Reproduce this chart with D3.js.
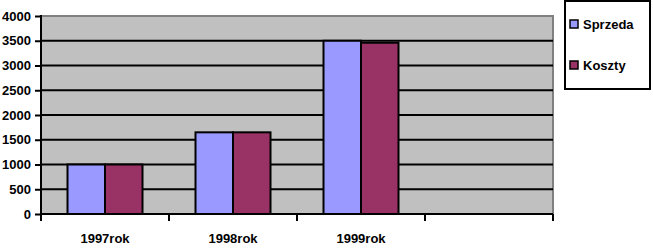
<!DOCTYPE html>
<html><head><meta charset="utf-8">
<script src="https://cdn.jsdelivr.net/npm/d3@7"></script>
<style>
html,body{margin:0;padding:0;background:#fff;}
svg{display:block;}
text{font-family:"Liberation Sans",Arial,sans-serif;font-weight:bold;font-size:13px;fill:#000;}
</style></head><body>
<svg id="c" width="653" height="248"></svg>
<script>
const categories = ["1997rok", "1998rok", "1999rok", ""];
const seriesNames = ["Sprzeda", "Koszty"];
const sprzeda = [1000, 1650, 3500, null];
const koszty = [1000, 1650, 3460, null];
const yTicks = [0, 500, 1000, 1500, 2000, 2500, 3000, 3500, 4000];
const colors = ["#9999ff", "#993366"];

const svg = d3.select("#c");
const L = 41, R = 553, T = 16, B = 214;
const x = d3.scaleBand().domain(categories.map((d,i)=>i)).range([L, R]);
const y = d3.scaleLinear().domain([0, 4000]).range([B, T]);

svg.append("rect").attr("x", L).attr("y", T).attr("width", R - L).attr("height", B - T)
  .attr("fill", "#c0c0c0").attr("stroke", "#808080").attr("stroke-width", 2);

// grid
svg.append("g").selectAll("line").data(yTicks.filter(d => d > 0 && d < 4000)).join("line")
  .attr("x1", L).attr("x2", R).attr("y1", d => y(d)).attr("y2", d => y(d))
  .attr("stroke", "#000").attr("stroke-width", 2);

// bars
const data = categories.map((c, i) => ({i, vals: [sprzeda[i], koszty[i]]}));
const groupW = 75;
const inner = d3.scaleBand().domain([0, 1]).range([0, groupW]);
const g = svg.append("g");
data.forEach(d => {
  d.vals.forEach((v, s) => {
    if (v == null) return;
    const cx = x(d.i) + x.bandwidth() / 2 - groupW / 2;
    g.append("rect")
      .attr("x", cx + inner(s)).attr("y", y(v))
      .attr("width", inner.bandwidth()).attr("height", y(0) - y(v))
      .attr("fill", colors[s]).attr("stroke", "#000").attr("stroke-width", 2);
  });
});

// y axis
const ya = d3.axisLeft(y).tickValues(yTicks).tickSize(6).tickPadding(4).tickFormat(d3.format("d"));
const yg = svg.append("g").attr("transform", `translate(${L},0)`).call(ya);
yg.select(".domain").remove();
yg.selectAll("line").attr("stroke", "#000").attr("stroke-width", 2);
yg.selectAll("text").attr("font-size", 13).attr("font-family", "Liberation Sans, Arial, sans-serif").attr("font-weight", "bold").attr("fill", "#000");
svg.append("line").attr("x1", L).attr("x2", L).attr("y1", T - 1).attr("y2", B + 7).attr("stroke", "#000").attr("stroke-width", 2);

// x axis
svg.append("line").attr("x1", L).attr("x2", R).attr("y1", B).attr("y2", B).attr("stroke", "#000").attr("stroke-width", 2);
svg.append("g").selectAll("line").data(categories.map((d,i)=>i)).join("line")
  .attr("x1", d => x(d) + x.bandwidth()).attr("x2", d => x(d) + x.bandwidth())
  .attr("y1", B).attr("y2", B + 7).attr("stroke", "#000").attr("stroke-width", 2);
svg.append("g").selectAll("text").data(categories).join("text")
  .attr("x", (d, i) => x(i) + x.bandwidth() / 2).attr("y", 243)
  .attr("text-anchor", "middle").text(d => d);

// legend
const lg = svg.append("g");
lg.append("rect").attr("x", 565).attr("y", 1).attr("width", 85).attr("height", 88)
  .attr("fill", "#fff").attr("stroke", "#000").attr("stroke-width", 2);
seriesNames.forEach((n, i) => {
  const yy = [24, 65][i];
  lg.append("rect").attr("x", 570).attr("y", yy - 4).attr("width", 8).attr("height", 8)
    .attr("fill", colors[i]).attr("stroke", "#000").attr("stroke-width", 1.5);
  lg.append("text").attr("x", 583).attr("y", yy + 5).text(n);
});
</script></body></html>
